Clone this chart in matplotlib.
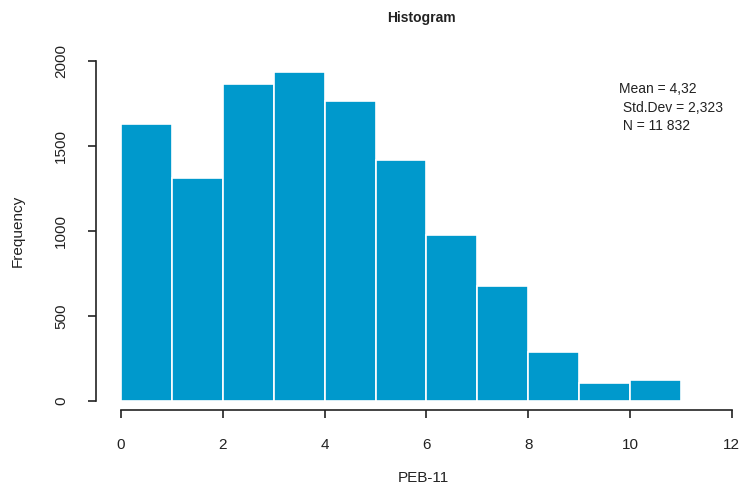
import numpy as np
import matplotlib.pyplot as plt

plt.rcParams['font.family'] = ['Liberation Sans', 'DejaVu Sans']

# histogram of PEB-11, unit-width bins from 0 to 11
bin_edges = [0, 1, 2, 3, 4, 5, 6, 7, 8, 9, 10, 11]
counts = [1630, 1310, 1865, 1935, 1765, 1420, 975, 676, 288, 106, 124]
x_ticks = [0, 2, 4, 6, 8, 10, 12]
y_ticks = [0, 500, 1000, 1500, 2000]
stats_lines = ['Mean = 4,32', ' Std.Dev = 2,323', ' N = 11 832']

W, H = 743, 488
fig = plt.figure(figsize=(W / 100, H / 100), dpi=100)
ax = fig.add_axes([96 / W, (H - 410) / H, (740 - 96) / W, (410 - 40) / H])

ax.bar(bin_edges[:-1], counts, width=1, align='edge',
       color='#0099cc', edgecolor='white', linewidth=1.2)

ax.set_xlim(-0.491, 12.16)
ax.set_ylim(-53, 2123)

for s in ['top', 'right']:
    ax.spines[s].set_visible(False)
ax.spines['bottom'].set_bounds(0, 12)
ax.spines['left'].set_bounds(0, 2000)
for s in ['bottom', 'left']:
    ax.spines[s].set_color('#222222')
    ax.spines[s].set_linewidth(1.2)

ax.set_xticks(x_ticks)
ax.set_yticks(y_ticks)
ax.tick_params(axis='both', length=6, width=1.2, color='#222222',
               labelsize=11, labelcolor='#222222')
ax.tick_params(axis='x', pad=14)
ax.tick_params(axis='y', pad=14)
for lbl in ax.get_yticklabels():
    lbl.set_rotation(90)
    lbl.set_va('center')

fig.text(421 / W, 1 - 18 / H, 'Histogram', ha='center', va='center',
         fontsize=10, fontweight='bold', color='#222222')
fig.text(423 / W, 1 - 478 / H, 'PEB-11', ha='center', va='center',
         fontsize=11, color='#222222')
fig.text(18 / W, 1 - 231 / H, 'Frequency', ha='center', va='center',
         rotation=90, fontsize=11, color='#222222')

for i, line in enumerate(stats_lines):
    fig.text(619 / W, 1 - (89 + i * 18.5) / H, line, ha='left', va='center',
             fontsize=10, color='#222222')

fig.savefig('out.png', dpi=100)
